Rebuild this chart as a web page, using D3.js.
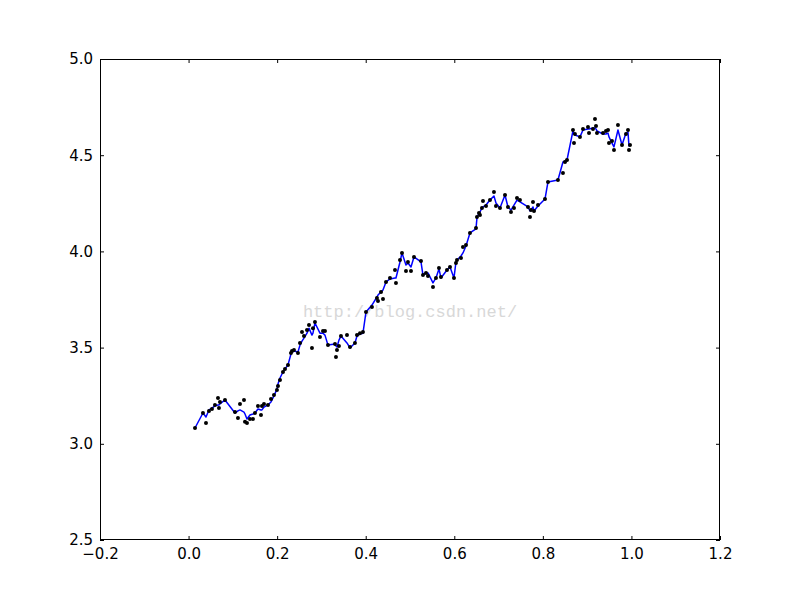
<!DOCTYPE html>
<html><head><meta charset="utf-8">
<script src="https://cdn.jsdelivr.net/npm/d3@7"></script>
<style>body{margin:0;background:#fff}svg{display:block}</style>
</head><body>
<script>
const xs = [0.0145,0.0325,0.0393,0.0461,0.0528,0.0596,0.0664,0.0686,0.0709,0.0822,
0.1048,0.1115,0.1161,0.1251,0.1274,0.1319,0.1386,0.1454,0.1499,0.1567,
0.1635,0.1657,0.1703,0.1793,0.1861,0.1928,0.1996,0.2019,0.2064,0.2132,
0.2177,0.2245,0.2312,0.2335,0.2380,0.2470,0.2516,0.2561,0.2606,0.2674,
0.2719,0.2786,0.2809,0.2854,0.2967,0.3035,0.3080,0.3148,0.3306,0.3328,
0.3351,0.3396,0.3441,0.3577,0.3645,0.3757,0.3803,0.3870,0.3938,0.4006,
0.4141,0.4254,0.4277,0.4345,0.4390,0.4458,0.4548,0.4661,0.4683,0.4774,
0.4819,0.4909,0.4954,0.5022,0.5090,0.5248,0.5293,0.5361,0.5406,0.5519,
0.5586,0.5654,0.5699,0.5835,0.5903,0.5993,0.6038,0.6061,0.6151,0.6196,
0.6264,0.6354,0.6490,0.6512,0.6558,0.6580,0.6625,0.6648,0.6716,0.6806,
0.6896,0.6941,0.7032,0.7145,0.7212,0.7280,0.7348,0.7416,0.7483,0.7664,
0.7709,0.7732,0.7777,0.7800,0.7890,0.8048,0.8116,0.8341,0.8454,0.8500,
0.8545,0.8680,0.8703,0.8725,0.8838,0.8906,0.9019,0.9042,0.9132,0.9177,
0.9200,0.9222,0.9358,0.9425,0.9471,0.9493,0.9561,0.9606,0.9696,0.9787,
0.9877,0.9922,0.9945,0.9968];
const lineY = [3.082,3.160,3.139,3.176,3.186,3.197,3.202,3.202,3.207,3.228,
3.160,3.171,3.176,3.165,3.155,3.129,3.150,3.155,3.160,3.181,
3.176,3.176,3.191,3.202,3.217,3.249,3.285,3.311,3.342,3.373,
3.389,3.410,3.467,3.477,3.482,3.477,3.513,3.534,3.549,3.575,
3.601,3.565,3.575,3.628,3.575,3.575,3.565,3.513,3.519,3.508,
3.503,3.539,3.560,3.524,3.498,3.524,3.560,3.570,3.575,3.685,
3.721,3.763,3.773,3.789,3.799,3.841,3.857,3.862,3.862,3.945,
3.992,3.929,3.940,3.919,3.971,3.945,3.877,3.888,3.888,3.836,
3.862,3.909,3.862,3.903,3.919,3.862,3.945,3.955,3.976,3.992,
4.028,4.096,4.117,4.174,4.200,4.205,4.226,4.231,4.241,4.267,
4.288,4.252,4.226,4.293,4.231,4.215,4.241,4.267,4.257,4.231,
4.210,4.215,4.231,4.210,4.236,4.272,4.361,4.371,4.465,4.470,
4.475,4.626,4.610,4.605,4.595,4.631,4.636,4.636,4.641,4.641,
4.636,4.626,4.610,4.610,4.615,4.595,4.563,4.543,4.631,4.553,
4.615,4.620,4.548,4.553];
const pointY = [3.082,3.160,3.108,3.171,3.181,3.202,3.238,3.186,3.217,3.228,
3.165,3.134,3.207,3.228,3.114,3.108,3.129,3.129,3.160,3.197,
3.150,3.197,3.207,3.202,3.233,3.254,3.280,3.301,3.332,3.373,
3.389,3.410,3.472,3.482,3.487,3.472,3.524,3.581,3.560,3.591,
3.617,3.498,3.601,3.633,3.555,3.586,3.586,3.513,3.519,3.451,
3.487,3.508,3.560,3.565,3.503,3.524,3.565,3.575,3.581,3.685,
3.711,3.758,3.742,3.789,3.753,3.841,3.862,3.903,3.836,3.955,
3.992,3.898,3.945,3.898,3.971,3.950,3.877,3.888,3.872,3.815,
3.862,3.914,3.867,3.903,3.919,3.862,3.940,3.955,3.966,4.023,
4.033,4.096,4.122,4.179,4.200,4.189,4.226,4.262,4.236,4.267,
4.309,4.236,4.226,4.293,4.231,4.205,4.226,4.278,4.267,4.231,
4.179,4.215,4.257,4.210,4.241,4.272,4.361,4.371,4.408,4.465,
4.475,4.631,4.563,4.610,4.595,4.636,4.647,4.615,4.636,4.688,
4.652,4.615,4.615,4.626,4.631,4.563,4.574,4.527,4.657,4.553,
4.610,4.631,4.527,4.553];
const xTicks = [-0.2,0.0,0.2,0.4,0.6,0.8,1.0,1.2];
const yTicks = [2.5,3.0,3.5,4.0,4.5,5.0];
const watermark = "http://blog.csdn.net/";

const W = 800, H = 600;
const L = 100, R = 720, T = 59, B = 540;
const svg = d3.select("body").append("svg").attr("width", W).attr("height", H);
const x = d3.scaleLinear().domain([-0.2, 1.2]).range([L, R]);
const y = d3.scaleLinear().domain([2.5, 5.0]).range([B, T]);

const font = "'DejaVu Sans', sans-serif";
const fmt = d => d3.format(".1f")(d).replace("-", "\u2212");

const ax = d3.axisBottom(x).tickValues(xTicks).tickFormat(fmt).tickSizeInner(-4).tickSizeOuter(0).tickPadding(8);
const axTop = d3.axisTop(x).tickValues(xTicks).tickFormat("").tickSizeInner(-4).tickSizeOuter(0);
const ay = d3.axisLeft(y).tickValues(yTicks).tickFormat(fmt).tickSizeInner(-4).tickSizeOuter(0).tickPadding(7);
const ayR = d3.axisRight(y).tickValues(yTicks).tickFormat("").tickSizeInner(-4).tickSizeOuter(0);

function style(g){
  g.select(".domain").remove();
  g.selectAll("line").attr("stroke","#000").attr("stroke-width",1);
  g.selectAll("text").attr("font-family",font).attr("font-size",15).attr("fill","#000");
}
svg.append("g").attr("transform",`translate(0,${B})`).call(ax).call(style);
svg.append("g").attr("transform",`translate(0,${T})`).call(axTop).call(style);
svg.append("g").attr("transform",`translate(${L},0)`).call(ay).call(style);
svg.append("g").attr("transform",`translate(${R},0)`).call(ayR).call(style);

svg.append("text").attr("x", 410).attr("y", 317).attr("text-anchor","middle")
  .attr("font-family","'Liberation Mono', monospace").attr("font-size",17)
  .attr("fill","#d8d8d8").text(watermark);

const data = xs.map((d,i)=>({x:d, ly:lineY[i], py:pointY[i]}));
svg.append("path").datum(data)
  .attr("fill","none").attr("stroke","#0000ff").attr("stroke-width",1.5)
  .attr("stroke-linejoin","round")
  .attr("d", d3.line().x(d=>x(d.x)).y(d=>y(d.ly)));

svg.append("g").selectAll("circle").data(data).join("circle")
  .attr("cx", d=>x(d.x)).attr("cy", d=>y(d.py)).attr("r", 2).attr("fill","#000");

svg.append("rect").attr("x",L+0.5).attr("y",T+0.5).attr("width",R-L-1).attr("height",B-T-1)
  .attr("fill","none").attr("stroke","#000").attr("stroke-width",1);
</script>
</body></html>
